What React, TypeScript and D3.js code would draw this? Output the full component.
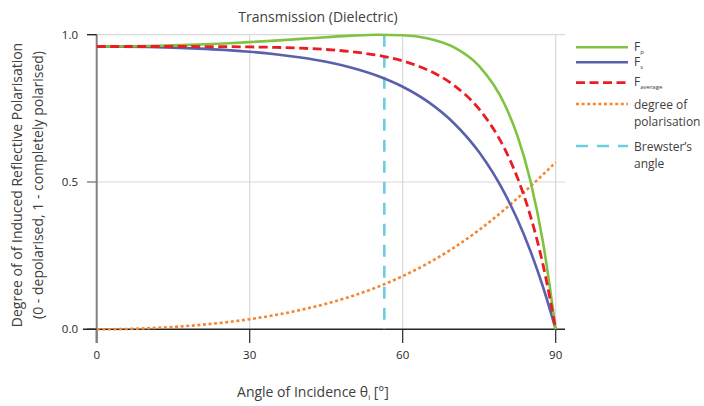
import React from "react";
import * as d3 from "d3";

const angles = [0, 5, 10, 15, 20, 25, 30, 35, 40, 45, 50, 55, 60, 65, 70, 75, 80, 82.5, 85, 87.5, 90];
const fp = [0.96, 0.9604, 0.9616, 0.9637, 0.9666, 0.9703, 0.9748, 0.98, 0.9857, 0.9915, 0.9967, 0.9998, 0.9982, 0.9871, 0.9575, 0.8932, 0.7632, 0.6564, 0.5068, 0.2966, 0];
const fs = [0.96, 0.9596, 0.9583, 0.9562, 0.9529, 0.9484, 0.9422, 0.9339, 0.9228, 0.908, 0.8879, 0.8607, 0.8234, 0.7719, 0.7004, 0.6007, 0.4614, 0.3724, 0.2677, 0.1445, 0];
const favg = [0.96, 0.96, 0.96, 0.96, 0.9598, 0.9594, 0.9585, 0.957, 0.9543, 0.9498, 0.9423, 0.9303, 0.9108, 0.8795, 0.829, 0.747, 0.6123, 0.5144, 0.3872, 0.2205, 0];
const dop = [0, 0.0008, 0.0035, 0.008, 0.0145, 0.0232, 0.0344, 0.0484, 0.0657, 0.0868, 0.1124, 0.1433, 0.1805, 0.2245, 0.2766, 0.3375, 0.407, 0.445, 0.4845, 0.525, 0.567];
const brewster = 56.4;
const xTicks = [0, 30, 60, 90];
const yTicks = [0, 0.5, 1];

const FONT = "'Open Sans', 'Noto Sans', sans-serif";
const TXT = "#404040";

export default function App() {
  const W = 704, H = 406;
  const x = d3.scaleLinear().domain([0, 90]).range([96.7, 555.7]);
  const y = d3.scaleLinear().domain([0, 1]).range([329.3, 34.7]);
  const mk = (vals: number[]) =>
    d3.line<number>().x((_, i) => x(angles[i])).y((v) => y(v)).curve(d3.curveMonotoneX)(vals) || "";

  const series = [
    { vals: dop, color: "#f58733", dash: "3,2.6", w: 2.6 },
    { vals: fs, color: "#5a60ab", dash: "", w: 2.6 },
    { vals: fp, color: "#80c241", dash: "", w: 2.6 },
    { vals: favg, color: "#ec1c24", dash: "9,4.5", w: 2.8 },
  ];

  const legX1 = 576, legX2 = 628, legT = 634;
  const LFS = 12;

  return (
    <svg width={W} height={H} style={{ position: "absolute", left: 0, top: 0, background: "#fff" }}>
      <text x={318} y={22} textAnchor="middle" fontFamily={FONT} fontSize={14} fill={TXT}>Transmission (Dielectric)</text>
      {/* grid */}
      {yTicks.filter((t) => t > 0).map((t) => (
        <line key={"gy" + t} x1={x(0)} x2={565} y1={y(t)} y2={y(t)} stroke="#d9d9d9" strokeWidth={1.2} />
      ))}
      {xTicks.filter((t) => t > 0).map((t) => (
        <line key={"gx" + t} x1={x(t)} x2={x(t)} y1={y(1)} y2={y(0)} stroke="#d9d9d9" strokeWidth={1.2} />
      ))}
      {/* x axis */}
      <line x1={83} x2={565} y1={y(0)} y2={y(0)} stroke="#262626" strokeWidth={1.4} />
      {xTicks.map((t) => (
        <g key={"xt" + t}>
          <line x1={x(t)} x2={x(t)} y1={y(0)} y2={343} stroke={t === 0 ? "#808080" : "#262626"} strokeWidth={t === 0 ? 2 : 1.2} />
          <text x={x(t)} y={359} textAnchor="middle" fontFamily={FONT} fontSize={11.5} fill="#262626">{t}</text>
        </g>
      ))}
      {/* y axis */}
      <line x1={x(0)} x2={x(0)} y1={y(1)} y2={343} stroke="#808080" strokeWidth={2} />
      {yTicks.map((t) => (
        <g key={"yt" + t}>
          <line x1={87} x2={x(0)} y1={y(t)} y2={y(t)} stroke={t === 0.5 ? "#808080" : "#262626"} strokeWidth={1.4} />
          <text x={78} y={y(t) + 4} textAnchor="end" fontFamily={FONT} fontSize={11.5} fill="#262626">{t.toFixed(1)}</text>
        </g>
      ))}
      {/* brewster */}
      <line x1={x(brewster)} x2={x(brewster)} y1={y(1)} y2={y(0)} stroke="#6ccde0" strokeWidth={2.6} strokeDasharray="12,9" />
      {series.map((s, i) => (
        <path key={i} d={mk(s.vals)} fill="none" stroke={s.color} strokeWidth={s.w} strokeDasharray={s.dash || undefined} />
      ))}
      {/* axis titles */}
      <text x={313} y={397} textAnchor="middle" fontFamily={FONT} fontSize={14} fill={TXT}>
        Angle of Incidence θ<tspan fontSize={8} dy={3}>i</tspan><tspan dy={-3}> [°]</tspan>
      </text>
      <text transform="translate(22,185) rotate(-90)" textAnchor="middle" fontFamily={FONT} fontSize={14} fill={TXT}>Degree of of Induced Reflective Polarisation</text>
      <text transform="translate(43,185) rotate(-90)" textAnchor="middle" fontFamily={FONT} fontSize={14} fill={TXT}>(0 - depolarised, 1 - completely polarised)</text>
      {/* legend */}
      <line x1={legX1} x2={legX2} y1={47.3} y2={47.3} stroke="#80c241" strokeWidth={2.6} />
      <text x={legT} y={50.5} fontFamily={FONT} fontSize={LFS} fill={TXT}>F<tspan fontSize={6} dy={3}>p</tspan></text>
      <line x1={legX1} x2={legX2} y1={62.3} y2={62.3} stroke="#5a60ab" strokeWidth={2.6} />
      <text x={legT} y={66} fontFamily={FONT} fontSize={LFS} fill={TXT}>F<tspan fontSize={6} dy={3}>s</tspan></text>
      <line x1={legX1} x2={legX2} y1={82.7} y2={82.7} stroke="#ec1c24" strokeWidth={2.8} strokeDasharray="9,4.5" />
      <text x={legT} y={86} fontFamily={FONT} fontSize={LFS} fill={TXT}>F<tspan fontSize={6} dy={3}>average</tspan></text>
      <line x1={legX1} x2={legX2} y1={104} y2={104} stroke="#f58733" strokeWidth={2.6} strokeDasharray="3,2.6" />
      <text x={legT} y={108.5} fontFamily={FONT} fontSize={LFS} fill={TXT}>degree of</text>
      <text x={legT} y={126} fontFamily={FONT} fontSize={LFS} fill={TXT}>polarisation</text>
      <line x1={legX1} x2={legX2} y1={146} y2={146} stroke="#6ccde0" strokeWidth={2.6} strokeDasharray="12,9" />
      <text x={legT} y={150.5} fontFamily={FONT} fontSize={LFS} fill={TXT}>Brewster’s</text>
      <text x={legT} y={168} fontFamily={FONT} fontSize={LFS} fill={TXT}>angle</text>
    </svg>
  );
}
